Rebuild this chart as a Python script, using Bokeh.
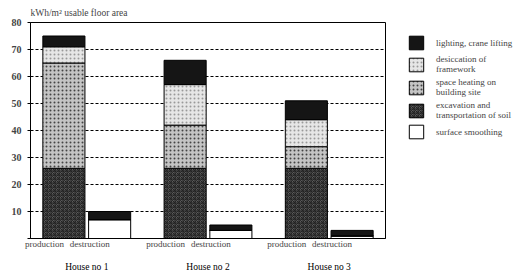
from bokeh.plotting import figure
from bokeh.layouts import row
from bokeh.models import (FactorRange, Range1d, FixedTicker, Legend, LegendItem,
                          Title, ColumnDataSource)
from bokeh.embed import file_html
from bokeh.resources import INLINE

houses = ["House no 1", "House no 2", "House no 3"]
phases = ["production", "destruction"]
series = ["surface smoothing", "excavation and\ntransportation of soil",
          "space heating on\nbuilding site", "desiccation of\nframework",
          "lighting, crane lifting"]
# order: H1 prod, H1 destr, H2 prod, H2 destr, H3 prod, H3 destr
smoothing = [0, 7, 0, 3, 0, 1]
excavation = [26, 0, 26, 0, 26, 0]
heating = [39, 0, 16, 0, 8, 0]
desiccation = [6, 0, 15, 0, 10, 0]
lighting = [4, 3, 9, 2, 7, 2]
y_ticks = [0, 10, 20, 30, 40, 50, 60, 70, 80]

x = [(h, ph) for h in houses for ph in phases]
keys = ["smoothing", "excavation", "heating", "desiccation", "lighting"]
data = dict(x=x, smoothing=smoothing, excavation=excavation, heating=heating,
            desiccation=desiccation, lighting=lighting)
cols = {"x": x}
for i, k in enumerate(keys):
    b = [sum(data[kk][j] for kk in keys[:i]) for j in range(len(x))]
    cols[k + "_b"] = b
    cols[k + "_t"] = [b[j] + data[k][j] for j in range(len(x))]
src = ColumnDataSource(cols)

SERIF = "Liberation Serif"

p = figure(x_range=FactorRange(*x, factor_padding=0.0, group_padding=0.65,
                               range_padding=0.063),
           y_range=Range1d(0, 80), width=386, height=276,
           output_backend="svg", toolbar_location=None,
           min_border_left=30, min_border_right=1, min_border_top=22,
           min_border_bottom=38)

# legend panel: its renderers are hidden, only the legend is drawn
lg = figure(width=129, height=276, output_backend="svg", toolbar_location=None,
            x_range=FactorRange(*x), y_range=Range1d(-2, -1),
            min_border=0, x_axis_location=None, y_axis_location=None)
lg.grid.grid_line_color = None
lg.outline_line_color = None

fills = ["white", "#5a5a5a", "#c4c4c4", "#e6e6e6", "#151515"]
hatches = [None, "criss_cross", "dot", "dot", None]
hcolors = ["black", "#222222", "#444444", "#999999", "black"]
lrends = []
for i, k in enumerate(keys):
    kw = dict(fill_color=fills[i], line_color="black", line_width=1)
    if hatches[i]:
        kw.update(hatch_pattern=hatches[i], hatch_color=hcolors[i],
                  hatch_scale=4, hatch_weight=1)
    p.vbar(x="x", bottom=k + "_b", top=k + "_t", width=0.92, source=src, **kw)
    lrends.append(lg.vbar(x="x", bottom=k + "_b", top=k + "_t", width=0.92,
                          source=src, visible=False, **kw))

items = [LegendItem(label=series[i], renderers=[lrends[i]]) for i in reversed(range(5))]
legend = Legend(items=items, location=(21, 98), padding=0, margin=0,
                glyph_width=18, glyph_height=17, spacing=3, label_standoff=11,
                label_text_font=SERIF, label_text_font_size="9px",
                border_line_color=None, background_fill_alpha=0,
                label_text_line_height=1.1, click_policy="none")
lg.add_layout(legend, "center")

p.add_layout(Title(text="kWh/m\u00b2 usable floor area", text_font=SERIF,
                   text_font_size="9.5px", text_font_style="normal",
                   standoff=9, offset=0), "above")

p.yaxis.ticker = FixedTicker(ticks=y_ticks)
p.yaxis.major_label_overrides = {0: ""}
p.yaxis.major_label_text_font = SERIF
p.yaxis.major_label_text_font_style = "bold"
p.yaxis.major_label_text_font_size = "10px"
p.yaxis.major_tick_out = 3
p.yaxis.major_tick_in = 0
p.yaxis.minor_tick_line_color = None
p.yaxis.axis_line_color = "black"
p.yaxis.major_label_standoff = 6

p.xaxis.axis_label = None
p.xaxis.major_tick_line_color = None
p.xaxis.major_tick_out = 0
p.xaxis.major_tick_in = 0
p.xaxis.minor_tick_line_color = None
p.xaxis.separator_line_color = None
p.xaxis.major_label_standoff = 5
p.xaxis.axis_label_standoff = 0
p.xaxis.major_label_text_font = SERIF
p.xaxis.major_label_text_font_size = "9px"
p.xaxis.group_text_font = SERIF
p.xaxis.group_text_font_size = "9.5px"
p.xaxis.group_text_font_style = "normal"
p.xaxis.group_text_color = "black"
p.xaxis.major_label_orientation = 0
p.xaxis.axis_line_color = "black"

p.xgrid.grid_line_color = None
p.ygrid.grid_line_color = "black"
p.ygrid.grid_line_dash = "3 2"
p.ygrid.grid_line_width = 1
p.outline_line_color = "black"
p.background_fill_color = "white"

layout = row(p, lg, spacing=0)
open("out.html", "w").write(file_html(layout, INLINE))
